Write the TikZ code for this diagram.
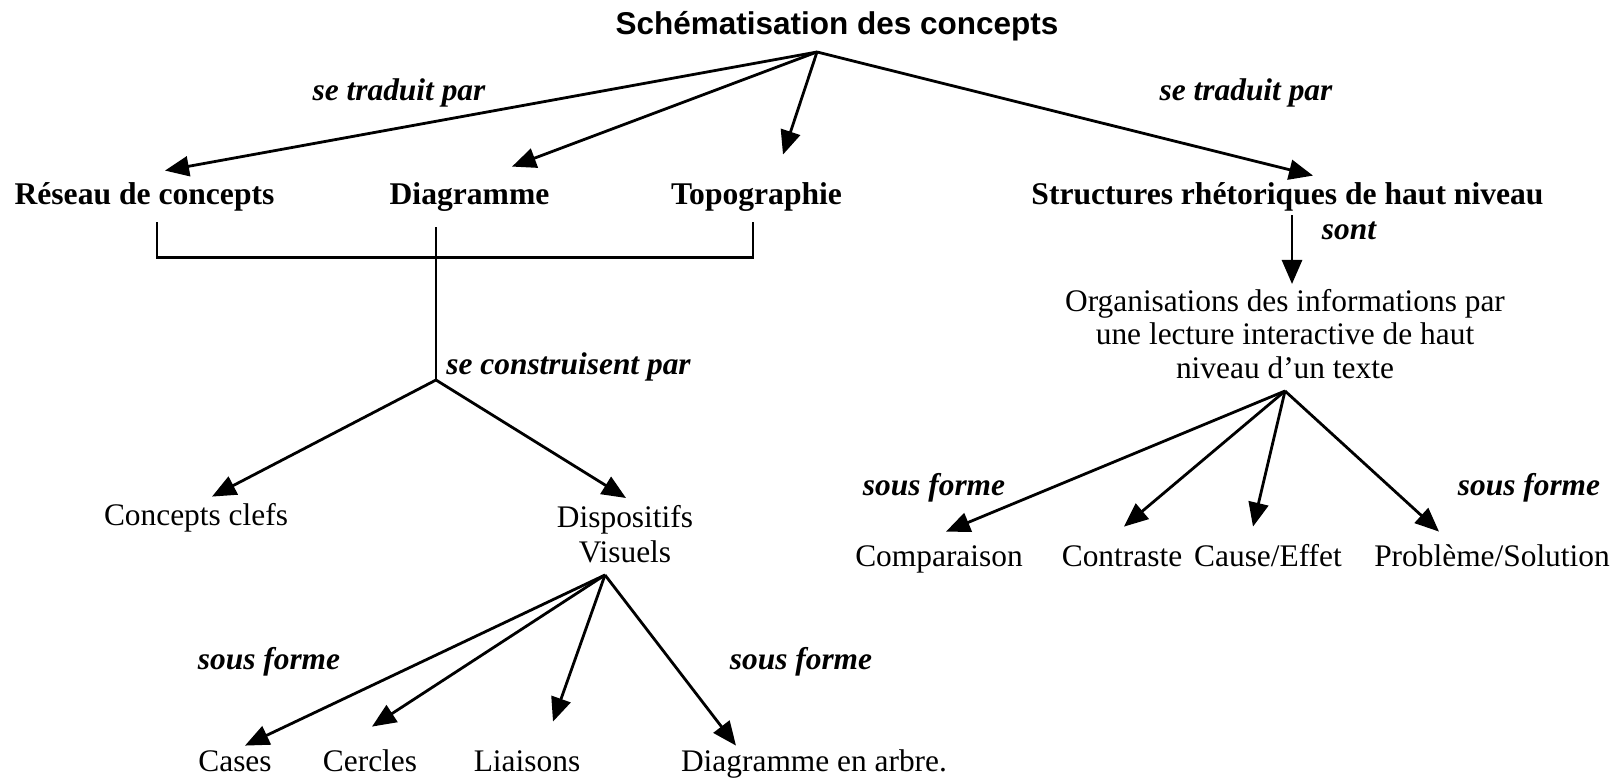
\documentclass[tikz,border=0pt]{standalone}
\usepackage{fontspec}
\setmainfont{Liberation Serif}
\newfontfamily\headfont{Liberation Sans}
\usetikzlibrary{arrows.meta}
\begin{document}
\begin{tikzpicture}[x=0.5pt,y=-0.5pt,
  txt/.style={inner sep=0pt, text height=11pt, text depth=3.5pt, anchor=base,
              font=\fontsize{15.7}{17}\selectfont},
  head/.style={txt, font=\headfont\bfseries\fontsize{15.75}{18}\selectfont},
  concept/.style={txt, font=\bfseries\fontsize{15.8}{18}\selectfont},
  item/.style={txt},
  mline/.style={inner sep=0pt, align=center, anchor=north},
  rel/.style={txt, font=\bfseries\itshape\fontsize{15.7}{18}\selectfont},
  link/.style={line width=1.4pt},
  arr/.style={link, -{Triangle[length=12pt,width=10pt]}}
]
\useasboundingbox (0,0) rectangle (1621,779);

% top level
\node[head] (title) at (837,35) {Schématisation des concepts};
\coordinate (apex) at (817,52);

\node[concept] (reseau) at (144.5,205) {Réseau de concepts};
\node[concept] (diag)   at (469.5,205) {Diagramme};
\node[concept] (topo)   at (756.5,205) {Topographie};
\node[concept] (struct) at (1287.5,205) {Structures rhétoriques de haut niveau};

\draw[arr] (apex) -- ([shift={(20.5,-12)}]reseau.north);
\draw[arr] (apex) -- ([shift={(42.5,-16)}]diag.north);
\draw[arr] (apex) -- ([shift={(26.5,-28)}]topo.north);
\draw[arr] (apex) -- ([shift={(25.5,-7)}]struct.north);

\node[rel] (trad1) at (399,101) {se traduit par};
\node[rel] (trad2) at (1246,101) {se traduit par};

% left branch: bracket joining the three representations
\draw[link] ([shift={(12.5,10)}]reseau.south) -- ++(0,35) -| ([shift={(-3.5,10)}]topo.south);
\coordinate (junc) at (436,380);
\draw[link] ([shift={(-33.5,15)}]diag.south) -- (junc);
\node[rel, anchor=base west] (constr) at (446,375) {se construisent par};

\node[item] (clefs) at (196,526) {Concepts clefs};
\node[mline, font=\fontsize{15.7}{17.5}\selectfont] (disp) at (625,505) {Dispositifs\\Visuels};

\draw[arr] (junc) -- ([shift={(16,-7)}]clefs.north);
\draw[arr] (junc) -- ([shift={(1,-7)}]disp.north);

% visual devices
\coordinate (vtip) at (605,575);
\node[item] (cases)   at (235,771) {Cases};
\node[item] (cercles) at (370,771) {Cercles};
\node[item] (liais)   at (527,771) {Liaisons};
\node[item] (arbre)   at (814,771) {Diagramme en arbre.};

\draw[arr] (vtip) -- ([shift={(10,-3)}]cases.north);
\draw[arr] (vtip) -- ([shift={(2,-22)}]cercles.north);
\draw[arr] (vtip) -- ([shift={(26,-27)}]liais.north);
\draw[arr] (vtip) -- ([shift={(-78,-3)}]arbre.north);

\node[rel] (sf1) at (269,669) {sous forme};
\node[rel] (sf2) at (801,669) {sous forme};

% right branch: rhetorical structures
\node[mline, font=\fontsize{15.7}{16.75}\selectfont] (org) at (1285,288.5)
  {Organisations des informations par\\une lecture interactive de haut\\niveau d’un texte};
\draw[arr] ([shift={(4.5,3)}]struct.south) -- ([shift={(7,-4.5)}]org.north);
\node[rel] (sont) at (1349,240) {sont};

\coordinate (otip) at (1285,391);
\node[item] (comp)  at (939,567) {Comparaison};
\node[item] (contr) at (1122,567) {Contraste};
\node[item] (cause) at (1268,567) {Cause/Effet};
\node[item] (prob)  at (1492,567) {Problème/Solution};

\draw[arr] (otip) -- ([shift={(7,-13)}]comp.north);
\draw[arr] (otip) -- ([shift={(2,-18)}]contr.north);
\draw[arr] (otip) -- ([shift={(-15,-18)}]cause.north);
\draw[arr] (otip) -- ([shift={(-53,-13)}]prob.north);

\node[rel] (sf3) at (934,496) {sous forme};
\node[rel] (sf4) at (1529,496) {sous forme};
\end{tikzpicture}
\end{document}
